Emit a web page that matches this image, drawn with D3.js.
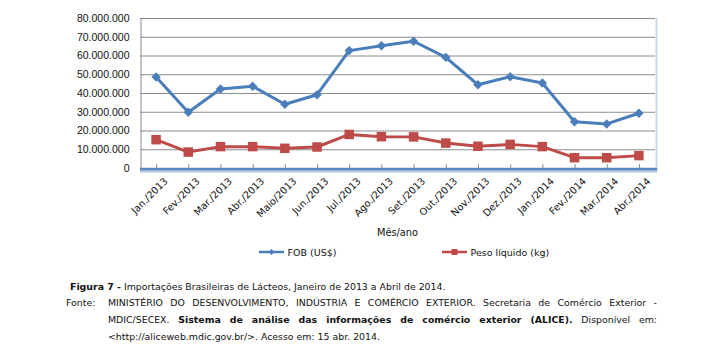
<!DOCTYPE html>
<html>
<head>
<meta charset="utf-8">
<script src="https://cdn.jsdelivr.net/npm/d3@7"></script>
<style>
  body { margin: 0; background: #fff; }
  #wrap { position: relative; width: 719px; height: 361px; overflow: hidden; }
  svg { position: absolute; left: 0; top: 0; }
  .cap { position: absolute; font-family: "DejaVu Sans", sans-serif; font-size: 9.4px; color: #111; white-space: nowrap; }
  .just { text-align: justify; text-align-last: justify; white-space: normal; }
</style>
</head>
<body>
<div id="wrap">
  <div id="chart"></div>
  <div class="cap" style="left:70px; top:281px;"><b>Figura 7 -</b> Importações Brasileiras de Lácteos, Janeiro de 2013 a Abril de 2014.</div>
  <div class="cap" style="left:66px; top:297px;">Fonte:</div>
  <div class="cap just" style="left:108px; top:297px; width:549px;">MINISTÉRIO DO DESENVOLVIMENTO, INDÚSTRIA E COMÉRCIO EXTERIOR. Secretaria de Comércio Exterior -</div>
  <div class="cap just" style="left:108px; top:314px; width:549px;">MDIC/SECEX. <b>Sistema de análise das informações de comércio exterior (ALICE).</b> Disponível em:</div>
  <div class="cap" style="left:108px; top:331px;">&lt;http://aliceweb.mdic.gov.br/&gt;. Acesso em: 15 abr. 2014.</div>
</div>
<script>
'use strict';

var months = ['Jan./2013', 'Fev./2013', 'Mar./2013', 'Abr./2013', 'Maio/2013', 'Jun./2013',
  'Jul./2013', 'Ago./2013', 'Set./2013', 'Out./2013', 'Nov./2013', 'Dez./2013',
  'Jan./2014', 'Fev./2014', 'Mar./2014', 'Abr./2014'];
var fob = [48500000, 29700000, 42100000, 43600000, 34000000, 39100000,
  62600000, 65200000, 67600000, 59000000, 44400000, 48700000,
  45300000, 24700000, 23500000, 29200000];
var peso = [15100000, 8500000, 11400000, 11400000, 10500000, 11200000,
  17900000, 16700000, 16600000, 13300000, 11600000, 12600000,
  11400000, 5500000, 5500000, 6600000];
var yTicks = [0, 10000000, 20000000, 30000000, 40000000, 50000000, 60000000, 70000000, 80000000];
var seriesNames = ['FOB (US$)', 'Peso líquido (kg)'];

var blue = '#4a7ebb', red = '#be4b48';

var mLeft = 140, mRight = 655, mTop = 18, mBottom = 168;

var svg = d3.select('#chart').append('svg')
  .attr('width', 719)
  .attr('height', 361);

var x = d3.scalePoint()
  .domain(months)
  .range([mLeft, mRight])
  .padding(0.5);
var y = d3.scaleLinear()
  .domain([0, 80000000])
  .range([mBottom, mTop]);

var br = d3.formatLocale({decimal: ',', thousands: '.', grouping: [3], currency: ['R$', '']});
var fmt = br.format(',.0f');

// gridlines
svg.append('g')
  .selectAll('line')
  .data(yTicks.slice(1))
  .enter()
  .append('line')
  .attr('x1', mLeft).attr('x2', mRight)
  .attr('y1', function(d) { return y(d) + 0.5; })
  .attr('y2', function(d) { return y(d) + 0.5; })
  .style('stroke', '#8c8c8c')
  .style('stroke-width', 1);

// right edge shadow
svg.append('line')
  .attr('x1', mRight + 1.5).attr('x2', mRight + 1.5)
  .attr('y1', mTop).attr('y2', mBottom + 3)
  .style('stroke', '#c9d6e8').style('stroke-width', 2);

// y axis
var yAxis = svg.append('g')
  .attr('transform', 'translate(' + (mLeft + 0.5) + ',0)')
  .call(d3.axisLeft(y).tickValues(yTicks).tickFormat(fmt).tickSize(0).tickPadding(11));
yAxis.select('.domain').style('stroke', '#8c8c8c');
yAxis.selectAll('text')
  .style('font-family', '"Liberation Sans", Arial, sans-serif')
  .style('font-size', '10.5px')
  .style('fill', '#111');

// x axis: blue floor + ticks
svg.append('line')
  .attr('x1', mLeft).attr('x2', mRight + 2)
  .attr('y1', mBottom + 3).attr('y2', mBottom + 3)
  .style('stroke', '#b4c7e2').style('stroke-width', 3);
svg.append('line')
  .attr('x1', mLeft).attr('x2', mRight + 2)
  .attr('y1', mBottom + 1).attr('y2', mBottom + 1)
  .style('stroke', '#5b88c4').style('stroke-width', 2.5);

var xAxis = svg.append('g')
  .attr('transform', 'translate(0,' + mBottom + ')')
  .call(d3.axisBottom(x).tickSize(-4).tickPadding(8));
xAxis.select('.domain').remove();
xAxis.selectAll('.tick line').style('stroke', '#8c8c8c');
xAxis.selectAll('text')
  .attr('text-anchor', 'end')
  .attr('dy', '0.3em')
  .attr('transform', 'translate(4,6) rotate(-45)')
  .style('font-family', '"DejaVu Sans", Verdana, sans-serif')
  .style('font-size', '9.8px')
  .style('fill', '#111');

svg.append('text')
  .attr('x', (mLeft + mRight) / 2)
  .attr('y', 236)
  .attr('text-anchor', 'middle')
  .text('Mês/ano')
  .style('font-family', '"DejaVu Sans", Verdana, sans-serif')
  .style('font-size', '9.8px')
  .style('fill', '#111');

// lines
var line = d3.line()
  .x(function(d, i) { return x(months[i]); })
  .y(function(d) { return y(d); });

svg.append('path')
  .datum(fob)
  .attr('d', line)
  .style('fill', 'none')
  .style('stroke', blue)
  .style('stroke-width', 3)
  .style('stroke-linejoin', 'round');
svg.append('path')
  .datum(peso)
  .attr('d', line)
  .style('fill', 'none')
  .style('stroke', red)
  .style('stroke-width', 3)
  .style('stroke-linejoin', 'round');

svg.append('g')
  .selectAll('path')
  .data(fob)
  .enter()
  .append('path')
  .attr('d', d3.symbol().type(d3.symbolSquare).size(44))
  .attr('transform', function(d, i) { return 'translate(' + x(months[i]) + ',' + y(d) + ') rotate(45)'; })
  .style('fill', blue);

svg.append('g')
  .selectAll('path')
  .data(peso)
  .enter()
  .append('path')
  .attr('d', d3.symbol().type(d3.symbolSquare).size(90))
  .attr('transform', function(d, i) { return 'translate(' + x(months[i]) + ',' + y(d) + ')'; })
  .style('fill', red);

// legend
var legend = [
  {name: seriesNames[0], color: blue, x1: 259, marker: 'd'},
  {name: seriesNames[1], color: red, x1: 442, marker: 's'}
];
var lg = svg.selectAll('.legend')
  .data(legend)
  .enter()
  .append('g')
  .attr('class', 'legend')
  .attr('transform', function(d) { return 'translate(' + d.x1 + ',252)'; });
lg.append('line')
  .attr('x1', 0).attr('x2', 25)
  .style('stroke', function(d) { return d.color; })
  .style('stroke-width', 2.5);
lg.append('path')
  .attr('d', function(d) {
    return d3.symbol().type(d3.symbolSquare).size(d.marker === 'd' ? 18 : 36)();
  })
  .attr('transform', function(d) { return 'translate(12.5,0)' + (d.marker === 'd' ? ' rotate(45)' : ''); })
  .style('fill', function(d) { return d.color; });
lg.append('text')
  .attr('x', 28.5)
  .attr('y', 3.5)
  .text(function(d) { return d.name; })
  .style('font-family', '"DejaVu Sans", Verdana, sans-serif')
  .style('font-size', '9.5px')
  .style('fill', '#111');
</script>
</body>
</html>
